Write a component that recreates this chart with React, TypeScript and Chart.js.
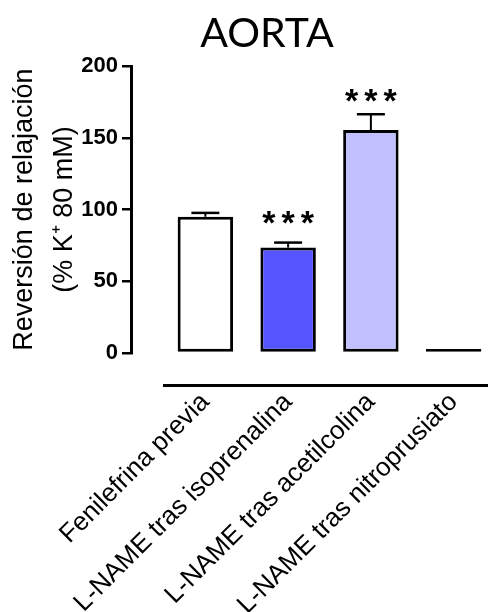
import { useEffect, useRef } from 'react';
import { Chart, registerables } from 'chart.js';

Chart.register(...registerables);

const categories = [
  'Fenilefrina previa',
  'L-NAME tras isoprenalina',
  'L-NAME tras acetilcolina',
  'L-NAME tras nitroprusiato',
];
const values = [95, 73.5, 155.5, 0];
const errors = [2.7, 3.5, 11, 0];
const significance = ['', '***', '***', ''];
const significanceAt = [null, 96, 181, null];
const barColors = ['#FFFFFF', '#5555FF', '#C0C0FF', '#000000'];
const yMin = 0;
const yMax = 200;
const yStep = 50;
const titleText = 'AORTA';
const yTitle = ['Reversión de relajación', '(% K\u207A 80 mM)'];

export default function App() {
  const ref = useRef<HTMLCanvasElement>(null);

  useEffect(() => {
    const canvas = ref.current;
    if (!canvas) return;

    const errorBars = {
      id: 'errorBars',
      afterDatasetsDraw(chart: any) {
        const ctx = chart.ctx;
        const meta = chart.getDatasetMeta(0);
        const y = chart.scales.y;
        ctx.save();
        ctx.strokeStyle = '#000';
        meta.data.forEach((bar: any, i: number) => {
          const e = errors[i];
          if (e) {
            const top = y.getPixelForValue(values[i]);
            const cap = y.getPixelForValue(values[i] + e);
            ctx.lineWidth = 2;
            ctx.beginPath();
            ctx.moveTo(bar.x, top);
            ctx.lineTo(bar.x, cap);
            ctx.stroke();
            ctx.lineWidth = 2.5;
            ctx.beginPath();
            ctx.moveTo(bar.x - 14, cap);
            ctx.lineTo(bar.x + 14, cap);
            ctx.stroke();
          }
          const s = significance[i];
          const at = significanceAt[i];
          if (s && at !== null) {
            const fs = 34;
            ctx.font = `bold ${fs}px "Liberation Sans", Arial, sans-serif`;
            ctx.fillStyle = '#000';
            ctx.textAlign = 'center';
            ctx.textBaseline = 'alphabetic';
            (ctx as any).letterSpacing = '6px';
            ctx.fillText(s, bar.x + 3, y.getPixelForValue(at) + fs * 0.56);
            (ctx as any).letterSpacing = '0px';
          }
        });
        ctx.restore();
      },
    };

    const chart = new Chart(canvas, {
      type: 'bar',
      data: {
        labels: categories,
        datasets: [
          {
            data: values,
            backgroundColor: barColors,
            borderColor: '#000',
            borderWidth: 3,
            borderSkipped: false,
            minBarLength: 4,
            categoryPercentage: 1,
            barPercentage: 0.67,
            xAxisID: 'x',
            yAxisID: 'y',
          },
        ],
      },
      options: {
        responsive: false,
        animation: false,
        events: [],
        layout: { padding: 0 },
        plugins: {
          legend: { display: false },
          tooltip: { enabled: false },
          title: {
            display: true,
            text: titleText,
            color: '#000',
            font: { family: 'Lato, "Liberation Sans", sans-serif', size: 41, weight: 'normal' },
            padding: { top: 9, bottom: 8 },
          },
        },
        scales: {
          x: {
            type: 'category',
            position: 'bottom',
            weight: 1,
            offset: true,
            grid: { display: false, drawTicks: false },
            border: { display: true, width: 3, color: '#000' },
            ticks: {
              autoSkip: false,
              maxRotation: 45,
              minRotation: 45,
              padding: 2,
              color: '#000',
              font: { family: '"Liberation Sans", Arial, sans-serif', size: 26 },
            },
            afterFit: (s: any) => { s.height = 227; },
          },
          x2: {
            type: 'category',
            labels: categories,
            position: 'bottom',
            weight: 0,
            grid: { display: false, drawTicks: false },
            border: { display: false },
            ticks: { display: false },
            afterFit: (s: any) => { s.height = 32; },
          },
          y: {
            type: 'linear',
            position: 'left',
            weight: 1,
            min: yMin,
            max: yMax,
            ticks: {
              stepSize: yStep,
              padding: 4,
              color: '#000',
              font: { family: '"Liberation Sans", Arial, sans-serif', size: 22, weight: 'bold' },
            },
            grid: {
              display: true,
              drawOnChartArea: false,
              drawTicks: true,
              tickLength: 9,
              lineWidth: 2.5,
              color: '#000',
            },
            border: { display: true, width: 3, color: '#000' },
            title: {
              display: true,
              text: yTitle,
              color: '#000',
              font: { family: '"Liberation Sans", Arial, sans-serif', size: 27, lineHeight: 1.5 },
              padding: { top: 4, bottom: 0 },
            },
            afterFit: (s: any) => { s.width = 131; },
          },
          y2: {
            type: 'linear',
            position: 'left',
            weight: 0,
            grid: { display: false, drawTicks: false },
            border: { display: false },
            ticks: { display: false },
            afterFit: (s: any) => { s.width = 33; },
          },
          y3: {
            type: 'linear',
            position: 'right',
            weight: 0,
            grid: { display: false, drawTicks: false },
            border: { display: false },
            ticks: { display: false },
            afterFit: (s: any) => { s.width = 39; },
          },
        },
      },
      plugins: [errorBars],
    } as any);

    return () => chart.destroy();
  }, []);

  return (
    <div
      style={{
        position: 'fixed',
        left: 0,
        top: 0,
        width: 488,
        height: 612,
        overflow: 'hidden',
        background: '#fff',
      }}
    >
      <canvas ref={ref} width={534} height={612} style={{ display: 'block' }} />
    </div>
  );
}
